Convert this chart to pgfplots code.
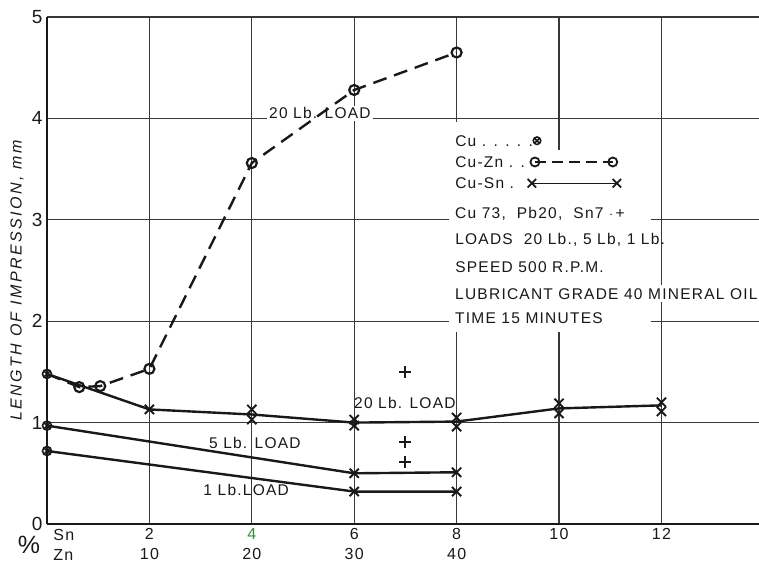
\documentclass[border=0pt]{standalone}
\usepackage{fontspec}
\setmainfont{Liberation Sans}
\usepackage{pgfplots}
\pgfplotsset{compat=1.18}
\usetikzlibrary{plotmarks}
\definecolor{ink}{rgb}{0.1,0.1,0.1}
\definecolor{gridc}{rgb}{0.22,0.22,0.22}
\definecolor{gr}{rgb}{0.2,0.55,0.25}
\newcommand{\lt}{\addfontfeature{LetterSpace=8}}
\newcommand{\lf}{\fontsize{15.5}{15.5}\selectfont\lt}
\begin{document}
\begin{tikzpicture}
\begin{axis}[name=ax, scale only axis, width=712pt, height=507pt,
  xmin=0, xmax=13.906, ymin=0, ymax=5,
  axis x line*=bottom, axis y line*=left,
  axis line style={ink, line width=1.8pt},
  xtick={2,4,6,8,10,12}, ytick={0,1,2,3,4,5},
  xmajorgrids, ymajorgrids,
  grid style={gridc, line width=1.05pt},
  major tick length=0pt,
  xticklabels={{2\\10},{\textcolor{gr}{4}\\20},{6\\30},{8\\40},{10},{12}},
  xticklabel style={align=center, font=\fontsize{16}{20}\selectfont\lt, text=ink, yshift=-1pt},
  yticklabel style={font=\fontsize{19}{19}\selectfont, text=ink, xshift=-1pt},
  /pgf/number format/assume math mode=true,
  clip=false]
% masks for the legend block
\fill[white] (axis cs:7.85,3.96) rectangle (axis cs:9.63,3.69);
\fill[white] (axis cs:7.85,3.69) rectangle (axis cs:11.80,1.89);
% top label
\node[fill=white, inner sep=2pt, font=\lf, text=ink] at (axis cs:5.33,4.05) {20 Lb. LOAD};
% Cu-Zn dashed
\addplot[ink, line width=2.4pt, dash pattern=on 14pt off 8pt, mark=o, mark size=5pt,
  mark options={solid, fill=white, line width=2.2pt}, mark indices={2,3,4,5,6,7}]
  coordinates {(0,1.48) (0.63,1.35) (1.04,1.36) (2,1.53) (4,3.56) (6,4.28) (8,4.65)};
% Cu-Sn 20 lb
\addplot[ink, line width=2.4pt] coordinates {(0,1.48) (2,1.13) (4,1.08) (6,1.0) (8,1.01) (10,1.14) (12,1.17)};
\addplot[only marks, ink, mark=x, mark size=6.5pt, mark options={line width=1.9pt}]
  coordinates {(2,1.13) (4,1.13) (4,1.03) (6,1.03) (6,0.97) (8,1.05) (8,0.96) (10,1.19) (10,1.09) (12,1.2) (12,1.11)};
% 5 lb
\addplot[ink, line width=2.4pt] coordinates {(0,0.97) (6,0.50) (8,0.51)};
% 1 lb
\addplot[ink, line width=2.4pt] coordinates {(0,0.72) (6,0.32) (8,0.32)};
\addplot[only marks, ink, mark=x, mark size=6.5pt, mark options={line width=1.9pt}]
  coordinates {(6,0.50) (8,0.51) (6,0.32) (8,0.32)};
% Cu
\addplot[only marks, ink, mark=otimes, mark size=4.5pt, mark options={fill=white, line width=1.6pt}]
  coordinates {(0,1.48) (0,0.97) (0,0.72)};
\addplot[only marks, ink, mark=o, mark size=3pt, mark options={fill=white, line width=1.5pt}]
  coordinates {(6,1.0)};
% Cu73 Pb20 Sn7
\addplot[only marks, ink, mark=+, mark size=6pt, mark options={line width=2pt}]
  coordinates {(7,1.50) (7,0.81) (7,0.61)};
% labels
\node[font=\lf, text=ink] at (axis cs:6.99,1.19) {20 Lb. LOAD};
\node[font=\lf, text=ink] at (axis cs:4.06,0.80) {5 Lb. LOAD};
\node[font=\lf, text=ink] at (axis cs:3.89,0.335) {1 Lb.LOAD};
% legend block
\begin{scope}[every node/.style={anchor=west, font=\lf, text=ink, inner sep=0pt}]
\node at (axis cs:7.97,3.78) {Cu . . . . .};
\node at (axis cs:7.97,3.57) {Cu-Zn . .};
\node at (axis cs:7.97,3.36) {Cu-Sn .};
\node[fill=white, inner sep=3pt] at (axis cs:7.91,3.06) {Cu 73, \ Pb20, \ Sn7 $\cdot$\,+};
\node at (axis cs:7.97,2.80) {LOADS\ \ 20 Lb., 5 Lb, 1 Lb.};
\node at (axis cs:7.97,2.53) {SPEED\ 500\ R.P.M.};
\node[fill=white, inner sep=3pt] at (axis cs:7.91,2.27) {LUBRICANT GRADE 40 MINERAL OIL};
\node[fill=white, inner sep=3pt] at (axis cs:7.91,2.03) {TIME 15 MINUTES};
\end{scope}
\addplot[only marks, ink, mark=otimes, mark size=3.8pt, mark options={fill=white, line width=1.5pt}]
  coordinates {(9.57,3.78)};
\addplot[ink, line width=2pt, dash pattern=on 11pt off 6pt, mark=o, mark size=4.5pt,
  mark options={solid, fill=white, line width=1.8pt}] coordinates {(9.53,3.57) (11.05,3.57)};
\addplot[ink, line width=1.5pt, mark=x, mark size=6pt, mark options={line width=1.7pt}]
  coordinates {(9.47,3.36) (11.13,3.36)};
% axis annotations
\node[font=\itshape\fontsize{16}{16}\selectfont\addfontfeature{LetterSpace=15}, text=ink, rotate=90] at (axis cs:-0.586,2.40) {LENGTH OF IMPRESSION, mm};
\node[font=\fontsize{25}{25}\selectfont, text=ink] at (axis cs:-0.35,-0.207) {\%};
\node[anchor=west, font=\fontsize{16}{20}\selectfont\lt, text=ink, align=left, inner sep=0pt] at (axis cs:0.12,-0.207) {Sn\\Zn};
\end{axis}
\pgfresetboundingbox
\path[use as bounding box] ([shift={(-47pt,-40pt)}]ax.south west) rectangle ([shift={(0pt,17pt)}]ax.north east);
\end{tikzpicture}
\end{document}
